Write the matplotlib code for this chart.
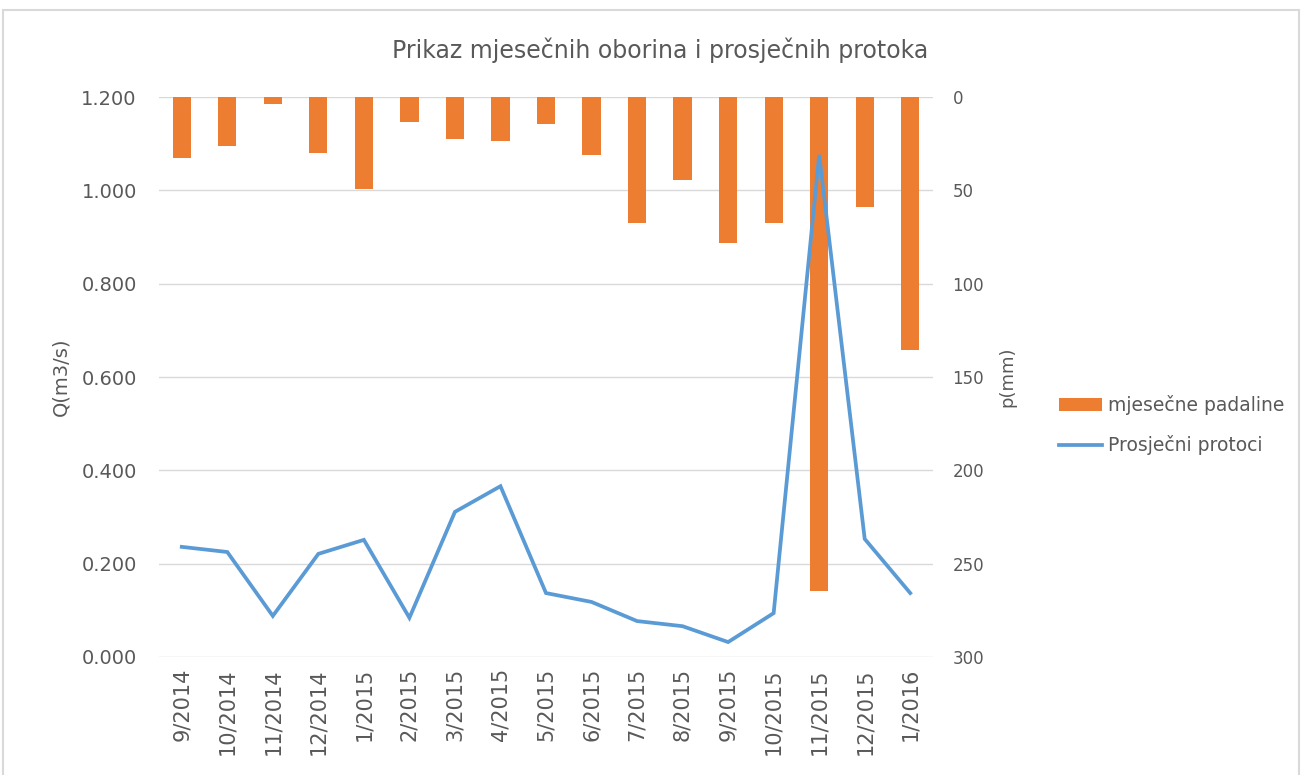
import numpy as np
import matplotlib.pyplot as plt
from matplotlib.patches import Rectangle
from matplotlib.ticker import FuncFormatter

# data
months = ["9/2014", "10/2014", "11/2014", "12/2014", "1/2015", "2/2015",
          "3/2015", "4/2015", "5/2015", "6/2015", "7/2015", "8/2015",
          "9/2015", "10/2015", "11/2015", "12/2015", "1/2016"]
padaline = [32.7, 26.2, 3.7, 30.0, 49.3, 13.4, 22.5, 23.6, 14.5, 31.0,
            67.5, 44.5, 78.2, 67.5, 264.6, 58.9, 135.5]
protoci = [0.236, 0.225, 0.088, 0.221, 0.251, 0.084, 0.311, 0.366, 0.137,
           0.118, 0.077, 0.066, 0.032, 0.094, 1.076, 0.253, 0.137]

plt.rcParams['font.family'] = ['DejaVu Sans']
txt = '#595959'

fig = plt.figure(figsize=(13.04, 7.75), dpi=100)
W, H = 1304, 775
ax = fig.add_axes([159 / W, 1 - 657 / H, (933 - 159) / W, (657 - 97) / H])
ax2 = ax.twinx()

# chart border
fig.patches.append(Rectangle((3 / W, -0.01), (1299 - 3) / W, 765 / H + 0.01,
                             transform=fig.transFigure, fill=False,
                             edgecolor='#d9d9d9', linewidth=1.5))

x = np.arange(len(months))

# bars hang from the top on the inverted right axis
ax2.bar(x, padaline, width=0.4, color='#ED7D31', label='mjesečne padaline', zorder=2)
ax2.set_ylim(300, 0)
ax2.set_yticks(np.arange(0, 301, 50))
ax2.grid(axis='y', color='#d9d9d9', linewidth=1)
ax2.set_axisbelow(True)
ax2.tick_params(axis='y', length=0, labelsize=12, labelcolor=txt, pad=14)
ax2.set_ylabel('p(mm)', fontsize=13, color=txt, labelpad=10)

ax.plot(x, protoci, color='#5B9BD5', linewidth=2.7, label='Prosječni protoci',
        solid_joinstyle='miter')
ax.set_ylim(0, 1.2)
ax.set_yticks(np.arange(0, 1.21, 0.2))
ax.yaxis.set_major_formatter(FuncFormatter(lambda v, p: f'{v:.3f}'))
ax.tick_params(axis='y', length=0, labelsize=14, labelcolor=txt, pad=16)
ax.set_ylabel('Q(m3/s)', fontsize=14, color=txt, labelpad=8)
ax.set_xlim(-0.5, len(months) - 0.5)
ax.set_xticks(x)
ax.set_xticklabels(months, rotation=90, fontsize=15, color=txt)
ax.tick_params(axis='x', length=0, pad=8)

ax.set_zorder(ax2.get_zorder() + 1)
ax.patch.set_visible(False)
for a in (ax, ax2):
    for s in a.spines.values():
        s.set_visible(False)

fig.text(660 / W, 1 - 50 / H, 'Prikaz mjesečnih oborina i prosječnih protoka',
         ha='center', va='center', fontsize=17, color=txt)

h1, l1 = ax2.get_legend_handles_labels()
h2, l2 = ax.get_legend_handles_labels()
fig.legend(h1 + h2, l1 + l2, loc='center left', bbox_to_anchor=(1042 / W, 1 - 425 / H),
           frameon=False, fontsize=13.5, labelcolor=txt, handlelength=2.3,
           handletextpad=0.3, labelspacing=1.1)

fig.savefig('out.png', dpi=100)
